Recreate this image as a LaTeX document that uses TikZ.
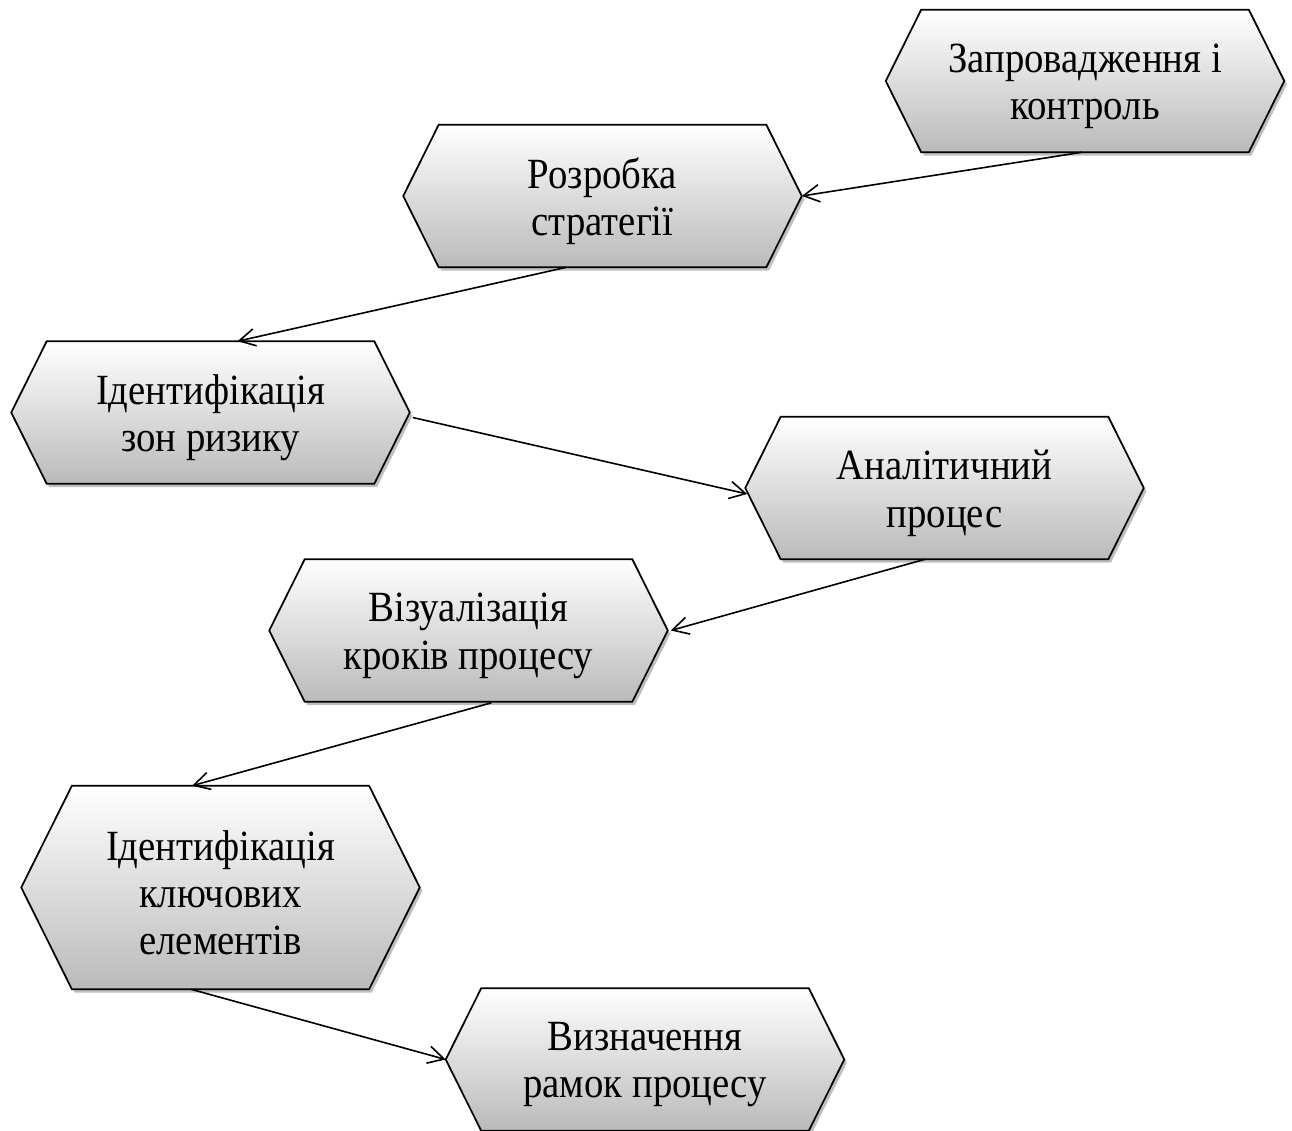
\documentclass[tikz,border=0pt]{standalone}
\usepackage{fontspec}
\setmainfont{Liberation Serif}[FakeStretch=0.9]
\usetikzlibrary{arrows.meta,calc,shadows,backgrounds}

\begin{document}
\begin{tikzpicture}[
  x=0.75pt, y=-0.75pt,
  stepbox/.style={rectangle, draw=none, inner sep=0pt,
    minimum width=298.5pt, minimum height=106.5pt},
  tallbox/.style={stepbox, minimum height=152.25pt},
  steptext/.style={align=center, inner sep=0pt, yshift=-4pt,
    font=\fontsize{32.3}{35.5}\selectfont},
  hexshape/.style={draw=black, line width=1.3pt, line join=miter,
    top color=white, bottom color=black!27,
    drop shadow={shadow xshift=2pt, shadow yshift=-2.5pt, opacity=0.25, fill=black}},
  link/.style={draw=black, line width=1.2pt,
    -{Straight Barb[length=12pt, width=13pt, line width=1.2pt]}}
]
\useasboundingbox (0,0) rectangle (1292,1131);

% process steps
\node[stepbox, label={[steptext]center:{Запровадження і\\контроль}}]   (n1) at (1085,81)     {};
\node[stepbox, label={[steptext]center:{Розробка\\стратегії}}]         (n2) at (602.5,196)   {};
\node[stepbox, label={[steptext]center:{Ідентифікація\\зон ризику}}]   (n3) at (210.5,412.5) {};
\node[stepbox, label={[steptext]center:{Аналітичний\\процес}}]         (n4) at (944.5,488)   {};
\node[stepbox, label={[steptext]center:{Візуалізація\\кроків процесу}}] (n5) at (468.5,630.5) {};
\node[tallbox, label={[steptext]center:{Ідентифікація\\ключових\\елементів}}] (n6) at (220.5,887.5) {};
\node[stepbox, label={[steptext]center:{Визначення\\рамок процесу}}]   (n7) at (645,1059.5)  {};

% hexagonal frames behind the labels
\begin{scope}[on background layer]
  \foreach \n/\i in {n1/26.6pt, n2/26.6pt, n3/26.6pt, n4/26.6pt,
                     n5/26.6pt, n6/38pt, n7/26.6pt}{
    \path[hexshape] (\n.west)
      -- ([xshift=\i]\n.north west) -- ([xshift=-\i]\n.north east)
      -- (\n.east)
      -- ([xshift=-\i]\n.south east) -- ([xshift=\i]\n.south west)
      -- cycle;
  }
\end{scope}

% connectors
\draw[link] ($(n1.south)+(-3,0)$)    -- (n2.east);
\draw[link] ($(n2.south)+(-36,0)$)   -- ($(n3.north)+(27,0)$);
\draw[link] ($(n3.east)+(3,5)$)      -- ($(n4.west)+(2,6)$);
\draw[link] ($(n4.south)+(-19.5,0)$) -- ($(n5.east)+(3,0)$);
\draw[link] ($(n5.south)+(23,1)$)    -- ($(n6.north)+(-28.5,0)$);
\draw[link] ($(n6.south)+(-29.5,0)$) -- (n7.west);
\end{tikzpicture}
\end{document}
